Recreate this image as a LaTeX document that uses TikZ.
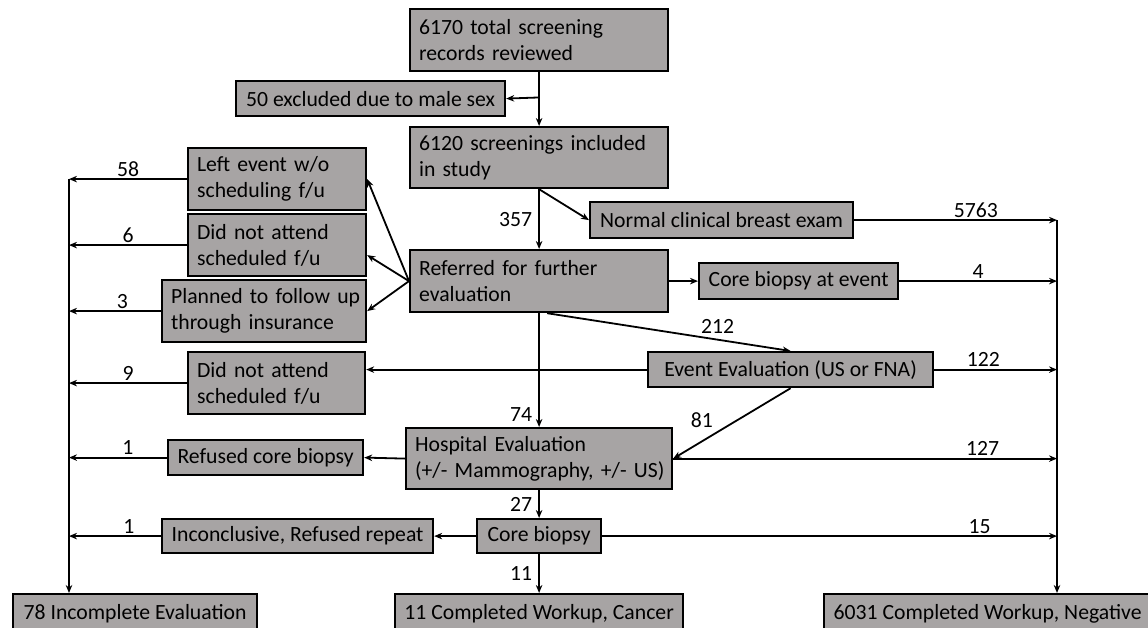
\documentclass[tikz,border=0pt]{standalone}
\usepackage{fontspec}
\setmainfont{Carlito}
\usetikzlibrary{arrows.meta,calc}
\definecolor{boxgray}{RGB}{167,164,164}
\tikzset{
  box/.style={draw=black, line width=2.2pt, fill=boxgray, inner xsep=9pt, inner ysep=0pt,
    font=\fontsize{21.7}{26}\selectfont, anchor=north west, outer sep=1.1pt},
  twoline/.style={text width=\bxt pt, align=left},
  arr/.style={line width=1.8pt, -{Stealth[length=8pt,width=6.5pt]}},
  lbl/.style={font=\fontsize{21.7}{26}\selectfont, inner sep=2pt},
}
\newcommand{\bx}[7][]{%
  \pgfmathsetmacro{\bxw}{#5-#3}\pgfmathsetmacro{\bxh}{#6-#4}\pgfmathsetmacro{\bxt}{#5-#3-18}%
  \node[box, minimum width=\bxw pt, minimum height=\bxh pt, #1] (#2) at (#3,#4) {#7};}
\newcommand{\tl}[2]{\mbox{#1}\\\mbox{#2}}
\begin{document}
\begin{tikzpicture}[x=1pt,y=-1pt]
\useasboundingbox (0,0) rectangle (1148,628);
% boxes
\bx[twoline]{A}{409}{8}{667}{70}{\tl{6170 total screening}{records reviewed}}
\bx{Excl}{235}{80}{504}{115}{50 excluded due to male sex}
\bx[twoline]{B}{409}{126}{667}{187}{\tl{6120 screenings included}{in study}}
\bx[twoline]{LeftEv}{187}{147}{365}{209}{\tl{Left event w/o}{scheduling f/u}}
\bx[twoline]{DNA1}{187}{213}{365}{275}{\tl{Did not attend}{scheduled f/u}}
\bx[twoline]{Plan}{161}{279}{365}{341}{\tl{Planned to follow up}{through insurance}}
\bx[twoline]{Ref}{409}{249}{667}{311}{\tl{Referred for further}{evaluation}}
\bx{Normal}{589}{201}{852}{237}{Normal clinical breast exam}
\bx{CoreEv}{698}{262}{897}{298}{Core biopsy at event}
\bx{EvEval}{647}{351}{932}{386}{Event Evaluation (US or FNA)}
\bx[twoline]{DNA2}{187}{351}{364}{413}{\tl{Did not attend}{scheduled f/u}}
\bx[twoline]{Hosp}{405}{427}{671}{488}{\tl{Hospital Evaluation}{(+/- Mammography, +/- US)}}
\bx{Refused}{167}{439}{362}{474}{Refused core biopsy}
\bx{CoreB}{476}{518}{600}{552}{Core biopsy}
\bx{Inconcl}{161}{518}{432}{552}{Inconclusive, Refused repeat}
\bx{Inc}{12}{593}{256}{633}{78 Incomplete Evaluation}
\bx{Cancer}{394}{593}{682}{633}{11 Completed Workup, Cancer}
\bx{Neg}{823}{593}{1150}{633}{6031 Completed Workup, Negative}
% helper coordinates
\coordinate (L) at (69,0);
\coordinate (R) at (1057,0);
\coordinate (j1) at (538,97.5);
% main column
\draw[arr] (A.south) -- (B.north);
\draw[arr] (j1) -- (Excl.east);
\draw[arr] (B.south) -- (Ref.north) node[lbl, midway, left=4pt] {357};
\draw[arr] (B.south) -- (Normal.west);
\draw[arr] (Ref.east) -- (CoreEv.west);
\draw[arr] ([xshift=8pt]Ref.south) -- (EvEval.north) node[lbl, pos=0.7, above=3pt] {212};
\draw[arr] (Ref.south) -- (Hosp.north) node[lbl, pos=0.89, left=4pt] {74};
\draw[arr] (EvEval.south) -- (Hosp.east) node[lbl, pos=0.45, left=22pt] {81};
\draw[arr] (EvEval.west) -- (EvEval.west -| DNA2.east);
\draw[arr] (Hosp.west) -- (Refused.east);
\draw[arr] (Hosp.south) -- (CoreB.north) node[lbl, midway, left=4pt] {27};
\draw[arr] (CoreB.west) -- (Inconcl.east);
\draw[arr] (CoreB.south) -- (Cancer.north) node[lbl, midway, left=4pt] {11};
% fan to the left
\draw[arr] (Ref.west) -- (LeftEv.east);
\draw[arr] (Ref.west) -- ([yshift=-10pt]DNA1.east);
\draw[arr] (Ref.west) -- (Plan.east);
% to the left collector
\draw[arr] (LeftEv.west) -- (LeftEv.west -| L) node[lbl, midway, above] {58};
\draw[arr] (DNA1.west) -- (DNA1.west -| L) node[lbl, midway, above] {6};
\draw[arr] (Plan.west) -- (Plan.west -| L) node[lbl, pos=0.42, above] {3};
\draw[arr] (DNA2.west) -- (DNA2.west -| L) node[lbl, midway, above] {9};
\draw[arr] (Refused.west) -- (Refused.west -| L) node[lbl, pos=0.4, above] {1};
\draw[arr] (Inconcl.west) -- (Inconcl.west -| L) node[lbl, pos=0.35, above] {1};
\draw[arr] (L |- LeftEv.west) -- (L |- Inc.north);
% to the right collector
\draw[arr] (Normal.east) -- (Normal.east -| R) node[lbl, pos=0.6, above] {5763};
\draw[arr] (CoreEv.east) -- (CoreEv.east -| R) node[lbl, midway, above] {4};
\draw[arr] (EvEval.east) -- (EvEval.east -| R) node[lbl, pos=0.4, above] {122};
\draw[arr] (Hosp.east) -- (Hosp.east -| R) node[lbl, pos=0.806, above] {127};
\draw[arr] (CoreB.east) -- (CoreB.east -| R) node[lbl, pos=0.83, above] {15};
\draw[arr] (R |- Normal.east) -- (R |- Neg.north);
\end{tikzpicture}
\end{document}
